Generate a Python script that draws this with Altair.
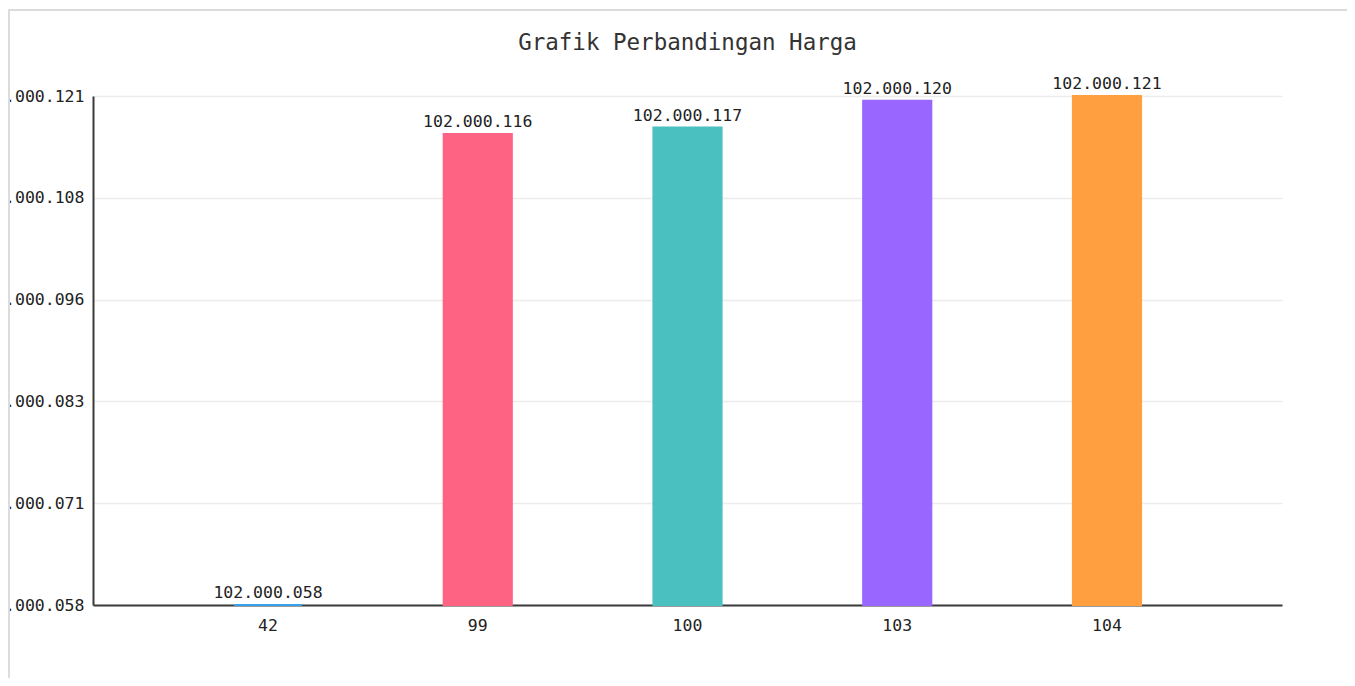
import altair as alt
import pandas as pd

# ---- data ----
categories = ["42", "99", "100", "103", "104"]
prices = [102000058, 102000116.3, 102000117.1, 102000120.4, 102000121]
colors = ["#36a2eb", "#ff6384", "#4bc0c0", "#9966ff", "#ff9f40"]
y_ticks = [102000058, 102000070.6, 102000083.2, 102000095.8, 102000108.4, 102000121]
chart_title = "Grafik Perbandingan Harga"

df = pd.DataFrame({"kode": categories, "harga": prices, "warna": colors})

MONO = "DejaVu Sans Mono"
W, H = 1189, 509
y_min, y_max = min(prices), max(prices)

x_enc = alt.X(
    "kode:N", sort=categories, title=None,
    scale=alt.Scale(paddingInner=0.675, paddingOuter=0.672),
    axis=alt.Axis(labelAngle=0, labelFont=MONO, labelFontSize=16.5, labelColor="#222",
                  labelPadding=12, ticks=False, domainColor="#3a3a3a", domainWidth=2,
                  grid=False),
)
y_enc = alt.Y(
    "harga:Q", title=None,
    scale=alt.Scale(zero=False, nice=False, domain=[y_min, y_max]),
    axis=alt.Axis(values=y_ticks, format=",.0f", labelFont=MONO, labelFontSize=16.5,
                  labelColor="#222", labelPadding=9, ticks=False, labelBaseline="middle",
                  labelFlush=False, labelOverlap=False,
                  domainColor="#3a3a3a", domainWidth=2,
                  gridColor="#ececec", gridWidth=1.5),
)

base = alt.Chart(df)

bars = base.mark_bar(strokeWidth=2).encode(
    x=x_enc, y=y_enc,
    y2=alt.datum(y_min),
    color=alt.Color("warna:N", scale=None),
    stroke=alt.Stroke("warna:N", scale=None),
)

labels = base.mark_text(dy=-7, baseline="alphabetic", font=MONO, fontSize=16.5, color="#222").encode(
    x=alt.X("kode:N", sort=categories),
    y=alt.Y("harga:Q"),
    text=alt.Text("harga:Q", format=",.0f"),
)

frame_df = pd.DataFrame({"k": [0]})
top_border = alt.Chart(frame_df).mark_rule(color="#dcdcdc", strokeWidth=2).encode(
    x=alt.value(-86), x2=alt.value(1300), y=alt.value(-86)
)
left_border = alt.Chart(frame_df).mark_rule(color="#dcdcdc", strokeWidth=2).encode(
    x=alt.value(-84), y=alt.value(-87), y2=alt.value(700)
)

chart = alt.layer(top_border, left_border, bars, labels).properties(
    width=W, height=H,
    title=alt.TitleParams(chart_title, font=MONO, fontSize=22.5, fontWeight="normal",
                          color="#333", anchor="middle", baseline="alphabetic", offset=-64),
    padding={"left": 85, "top": 88, "right": 65, "bottom": 73},
    autosize=alt.AutoSizeParams(type="none"),
).configure(
    locale=alt.Locale(number=alt.NumberLocale(decimal=",", thousands=".", grouping=[3], currency=["Rp", ""]))
).configure_view(stroke=None)

chart.save("out.html", embed_options={"renderer": "svg", "actions": False})
